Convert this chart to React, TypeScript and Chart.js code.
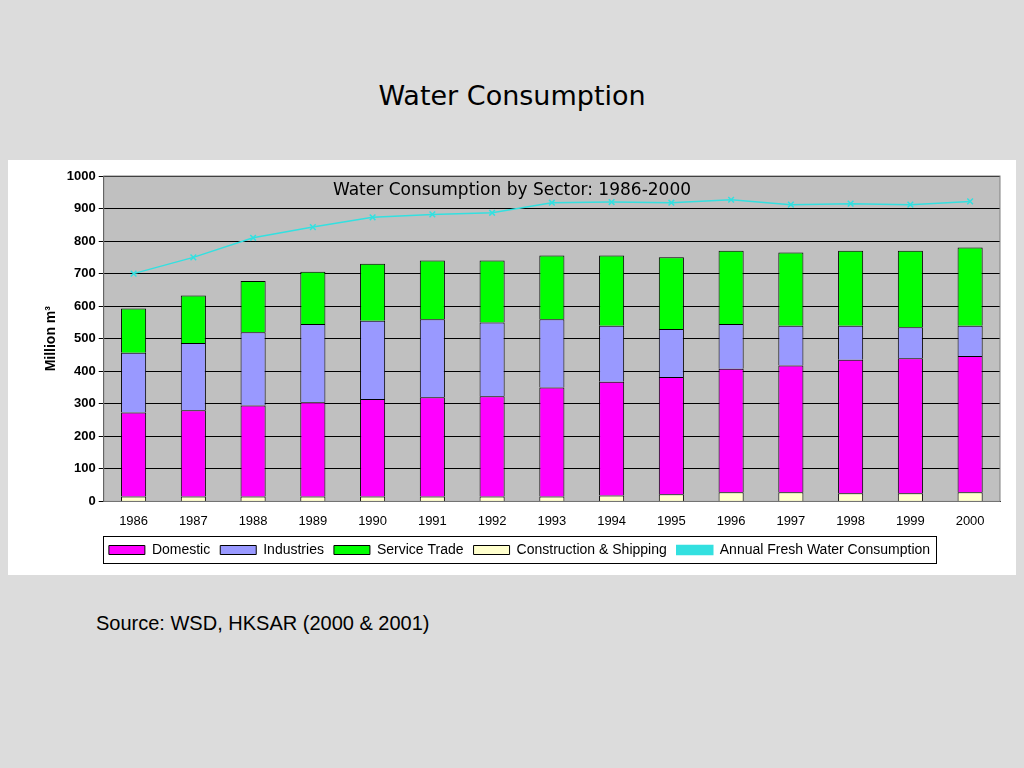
import React, { useEffect, useRef } from "react";
import { Chart, registerables } from "chart.js";
Chart.register(...registerables);

const years = ["1986","1987","1988","1989","1990","1991","1992","1993","1994","1995","1996","1997","1998","1999","2000"];
const construction = [15,15,15,15,15,15,15,15,18,22,28,28,25,25,28];
const domestic = [258,265,280,290,300,305,308,335,350,360,380,390,410,415,419];
const industries = [184,207,225,240,240,240,227,210,172,148,137,122,105,95,93];
const serviceTrade = [136,146,157,161,175,180,190,196,216,220,225,225,230,235,240];
const annualFresh = [700,750,810,843,873,882,887,918,920,918,927,912,915,912,922];
const legendOrder = ["Domestic", "Industries", "Service Trade", "Construction & Shipping", "Annual Fresh Water Consumption"];

const plotPlugin = {
  id: "plotDeco",
  beforeDraw(chart: any) {
    const { ctx, chartArea: a } = chart;
    ctx.save();
    ctx.fillStyle = "#c0c0c0";
    ctx.fillRect(a.left, a.top, a.right - a.left, a.bottom - a.top);
    ctx.restore();
  },
  afterDraw(chart: any) {
    const { ctx, chartArea: a, legend } = chart;
    ctx.save();
    ctx.strokeStyle = "#808080";
    ctx.lineWidth = 1;
    ctx.strokeRect(a.left, a.top, a.right - a.left, a.bottom - a.top);
    ctx.fillStyle = "#000";
    ctx.font = "17px 'DejaVu Sans'";
    ctx.textAlign = "center";
    ctx.textBaseline = "middle";
    ctx.fillText("Water Consumption by Sector: 1986-2000", 504, 31);
    ctx.strokeStyle = "#000";
    const items = legend.legendHitBoxes;
    if (items && items.length) {
      const l = Math.min(...items.map((h: any) => h.left)) - 6;
      const r = Math.max(...items.map((h: any) => h.left + h.width)) + 6;
      ctx.strokeRect(Math.round(l) + 0.5, legend.top + 3.5, Math.round(r - l), legend.height - 7);
    }
    ctx.restore();
  },
};

export default function App() {
  const ref = useRef<HTMLCanvasElement>(null);
  useEffect(() => {
    const bar = (label: string, data: number[], color: string) => ({
      type: "bar" as const, label, data, backgroundColor: color, borderColor: "#000", borderWidth: 1,
      stack: "s", barPercentage: 0.42, categoryPercentage: 1, order: 2,
    });
    const chart = new Chart(ref.current!, {
      type: "bar",
      data: {
        labels: years,
        datasets: [
          bar("Construction & Shipping", construction, "#ffffcc"),
          bar("Domestic", domestic, "#ff00ff"),
          bar("Industries", industries, "#9999ff"),
          bar("Service Trade", serviceTrade, "#00ff00"),
          {
            type: "line" as const, label: "Annual Fresh Water Consumption", data: annualFresh,
            borderColor: "#33e0e0", backgroundColor: "#33e0e0", borderWidth: 1.5,
            pointStyle: "crossRot", pointRadius: 4, pointBorderWidth: 1.5, order: 1,
          } as any,
        ] as any,
      },
      options: {
        animation: false,
        responsive: false,
        layout: { padding: { top: 16, left: 31, right: 16, bottom: 8 } },
        scales: {
          x: {
            stacked: true,
            grid: { display: false },
            border: { color: "#000" },
            ticks: { color: "#000", font: { family: "Liberation Sans", size: 13 }, padding: 4 },
          },
          y: {
            stacked: true, min: 0, max: 1000,
            ticks: { stepSize: 100, color: "#000", font: { family: "Liberation Sans", size: 13, weight: "bold" }, callback: (v: any) => String(v) },
            grid: { color: "#000", tickColor: "#000", tickLength: 5 },
            border: { color: "#000" },
            title: { display: true, text: "Million m³", color: "#000", font: { family: "Liberation Sans", size: 14, weight: "bold" } },
          },
        },
        plugins: {
          legend: {
            position: "bottom",
            labels: {
              color: "#000",
              font: { family: "Liberation Sans", size: 14 },
              boxWidth: 36, boxHeight: 9, padding: 10,
              sort: (a: any, b: any) => legendOrder.indexOf(a.text) - legendOrder.indexOf(b.text),
            },
          },
          tooltip: { enabled: false },
        },
      },
      plugins: [plotPlugin],
    } as any);
    return () => chart.destroy();
  }, []);
  return (
    <div style={{ position: "absolute", left: 0, top: 0, width: 1024, height: 768, background: "#dcdcdc", fontFamily: "Liberation Sans" }}>
      <div style={{ position: "absolute", top: 80, width: 1024, textAlign: "center", fontSize: 27, fontFamily: "'DejaVu Sans'" }}>Water Consumption</div>
      <div style={{ position: "absolute", left: 8, top: 160, width: 1008, height: 415, background: "#fff" }}>
        <canvas ref={ref} width={1008} height={415} />
      </div>
      <div style={{ position: "absolute", left: 96, top: 612, fontSize: 20 }}>Source: WSD, HKSAR (2000 &amp; 2001)</div>
    </div>
  );
}
